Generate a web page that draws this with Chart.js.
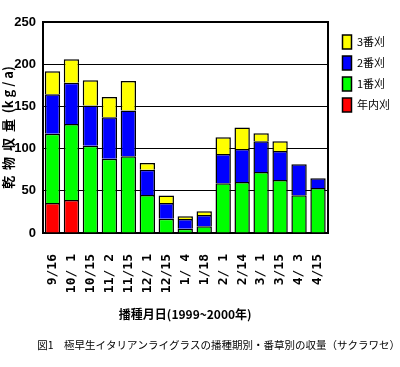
<!DOCTYPE html>
<html>
<head>
<meta charset="utf-8">
<script src="https://cdn.jsdelivr.net/npm/chart.js@4"></script>
<style>
body { margin: 0; background: #fff; }
</style>
</head>
<body>
<canvas id="chart" width="400" height="367"></canvas>
<script>
const sowing_dates = ["9/16", "10/ 1", "10/15", "11/ 2", "11/15", "12/ 1", "12/15", "1/ 4", "1/18", "2/ 1", "2/14", "3/ 1", "3/15", "4/ 3", "4/15"];
const cut_year_end = [35.5, 39, null, null, null, null, null, null, null, null, null, null, null, null, null];
const cut_first = [82, 90, 103.5, 88, 91, 45, 17, 5, 8, 59, 60.4, 72.3, 62.8, 44.6, 53.3];
const cut_second = [47, 49, 47.5, 49, 54, 30, 18.5, 11.6, 13.3, 34.6, 39, 36.3, 34.4, 36.8, 11.5];
const cut_third = [27, 28, 30, 24, 35, 8, 9, 3.2, 4.4, 19.8, 25.7, 9.5, 11.4, null, null];
const y_ticks = [0, 50, 100, 150, 200, 250];

const CJK = "'Noto Sans CJK JP', sans-serif";

function bar_set(label, data, color) {
	return {
		label,
		data,
		backgroundColor: color,
		borderColor: "#000",
		borderWidth: 1.5,
		barPercentage: 0.81,
		categoryPercentage: 1
	};
}

const data = {
	labels: sowing_dates,
	datasets: [
		bar_set("年内刈", cut_year_end, "#ff0000"),
		bar_set("1番刈", cut_first, "#00ff00"),
		bar_set("2番刈", cut_second, "#0000ff"),
		bar_set("3番刈", cut_third, "#ffff00")
	]
};

const context = document.getElementById("chart").getContext("2d");
const chart = new Chart(context, {
	type: "bar",
	data,
	options: {
		responsive: false,
		animation: false,
		layout: { padding: { top: 22, left: 0, right: 0, bottom: 0 } },
		plugins: {
			tooltip: { enabled: false },
			legend: {
				position: "right",
				align: "start",
				reverse: true,
				title: { display: true, text: "", padding: 0, font: { size: 5 } },
				labels: {
					color: "#000",
					boxWidth: 9,
					boxHeight: 14,
					padding: 7,
					font: { family: CJK, size: 11 }
				}
			},
			title: {
				display: true,
				position: "bottom",
				align: "end",
				text: "図1　極早生イタリアンライグラスの播種期別・番草別の収量（サクラワセ）",
				color: "#000",
				font: { family: CJK, size: 10.5, weight: "normal" },
				padding: { top: 0, bottom: 16 }
			}
		},
		scales: {
			x: {
				stacked: true,
				grid: { display: false },
				border: { color: "#000", width: 2 },
				ticks: {
					color: "#000",
					autoSkip: false,
					maxRotation: 90,
					minRotation: 90,
					padding: 13,
					font: { family: "'DejaVu Sans Mono', monospace", size: 13, weight: "bold" }
				},
				title: {
					display: true,
					text: "播種月日(1999~2000年)",
					color: "#000",
					font: { family: CJK, size: 12, weight: "bold" },
					padding: { top: 0, bottom: 17 }
				},
				afterFit: s => { s.height = 105.4; }
			},
			y: {
				stacked: true,
				min: 0,
				max: 250,
				afterBuildTicks: s => { s.ticks = y_ticks.map(value => ({ value })); },
				grid: {
					color: "#000",
					lineWidth: c => (c.tick && c.tick.value === 250 ? 2 : 1),
					drawTicks: false
				},
				border: { color: "#000", width: 2 },
				ticks: {
					color: "#000",
					padding: 7,
					font: { family: "'Liberation Sans', sans-serif", size: 13, weight: "bold" }
				},
				title: {
					display: true,
					text: "乾  物  収  量  (k g / a)",
					color: "#000",
					font: { family: CJK, size: 13, weight: "bold" },
					padding: { top: 0, bottom: 0 }
				},
				afterFit: s => { s.width = 43; }
			},
			y2: {
				position: "right",
				display: true,
				min: 0,
				max: 250,
				grid: { display: false, drawTicks: false },
				border: { color: "#000", width: 2 },
				ticks: { display: false },
				afterFit: s => { s.width = 8; }
			}
		}
	}
});
</script>
</body>
</html>
